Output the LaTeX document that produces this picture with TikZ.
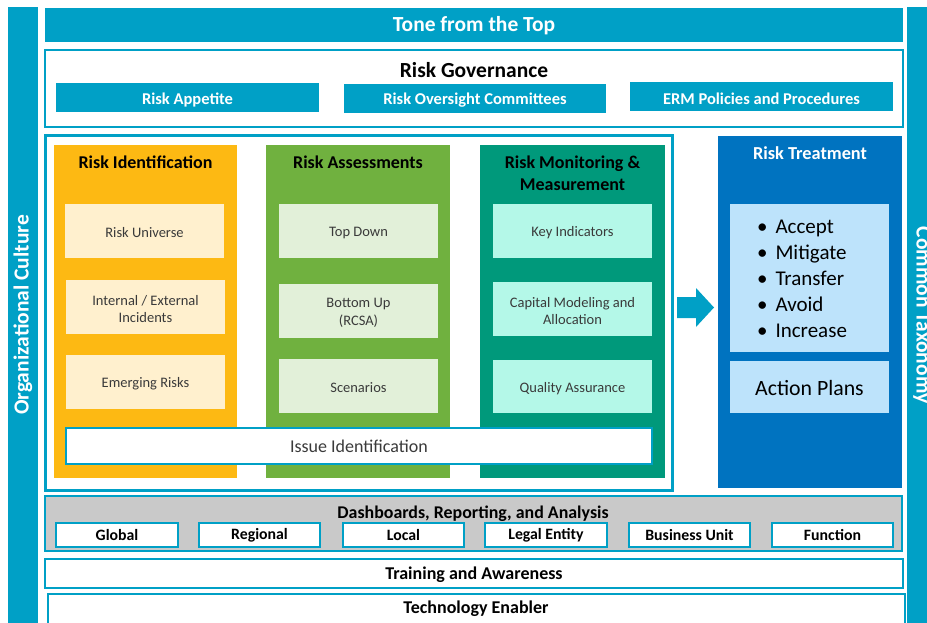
\documentclass[tikz,border=0pt]{standalone}
\usepackage{fontspec}
\setmainfont{Carlito}
\definecolor{cy}{HTML}{00A0C6}
\definecolor{orng}{HTML}{FDB913}
\definecolor{grn}{HTML}{70B13F}
\definecolor{teal2}{HTML}{00997B}
\definecolor{blu}{HTML}{0073C0}
\definecolor{lorng}{HTML}{FFF0CE}
\definecolor{lgrn}{HTML}{E2F0D9}
\definecolor{mint}{HTML}{B4F8E8}
\definecolor{lblu}{HTML}{BDE3FB}
\definecolor{gry}{HTML}{C9C9C9}
\definecolor{txtg}{HTML}{3A3A3A}
\newcommand{\rbox}[7][]{\node[#1, minimum width={(#5)-(#3)}, minimum height={(#6)-(#4)}] (#2) at ({((#3)+(#5))/2},{((#4)+(#6))/2}) {#7};}
\newcommand{\rboxlow}[7][]{\node[#1, minimum width={(#5)-(#3)}, minimum height={(#6)-(#4)}] (#2) at ({((#3)+(#5))/2},{((#4)+(#6))/2}) {};
  \node[#1, draw=none, fill=none, yshift=-2pt] (#2-t) at (#2.center) {#7};}
\begin{document}
\begin{tikzpicture}[x=1pt,y=-1pt,
  every node/.style={inner sep=0pt, outer sep=0pt},
  bar/.style={fill=cy, text=white, font=\bfseries\fontsize{21.5}{24}\selectfont},
  frame/.style={draw=cy, line width=2.5pt, fill=white},
  govsub/.style={fill=cy, text=white, font=\bfseries\fontsize{16.5}{19}\selectfont},
  coltitle/.style={font=\bfseries\fontsize{18}{22}\selectfont, align=center},
  subbox/.style={font=\fontsize{14.5}{17.5}\selectfont, text=txtg, align=center},
  tag/.style={draw=cy, line width=1.5pt, fill=white, font=\bfseries\fontsize{15.8}{18}\selectfont},
  wide/.style={draw=cy, line width=2pt, fill=white, font=\bfseries\fontsize{18}{20}\selectfont},
  big/.style={font=\fontsize{21}{26}\selectfont, text=black}
]
\useasboundingbox (0,0) rectangle (927,623);

% side bars
\rbox[bar]{oc}{8}{7}{38}{640}{}
\node[rotate=90, text=white, font=\bfseries\fontsize{21.5}{24}\selectfont] (oct) at (23,315) {Organizational Culture};
\rbox[bar]{ct}{907}{7}{937}{640}{}
\node[rotate=-90, text=white, font=\bfseries\fontsize{21.5}{24}\selectfont] (ctt) at (922,315) {Common Taxonomy};

% top
\rbox[bar]{tone}{45}{8}{903}{42}{}
\node[text=white, font=\bfseries\fontsize{21.5}{24}\selectfont] (tonet) at (474,26) {Tone from the Top};

% governance
\rbox[frame]{gov}{45}{50}{903}{127}{}
\node[font=\bfseries\fontsize{21.5}{24}\selectfont] (govt) at (474,70) {Risk Governance};
\rboxlow[govsub]{ra}{56}{83}{319}{112}{Risk Appetite}
\rboxlow[govsub]{roc}{344}{84}{606}{113}{Risk Oversight Committees}
\rboxlow[govsub]{erm}{630}{82}{893}{111}{ERM Policies and Procedures}

% middle frame
\draw[draw=cy, line width=3pt, fill=white] (45,136) rectangle (672,490);

% columns
\rbox[fill=orng]{idc}{54}{145}{237}{478}{}
\node[coltitle] (idt) at (145.5,162) {Risk Identification};
\rboxlow[fill=lorng, subbox]{ru}{65}{204}{224}{258}{Risk Universe}
\rboxlow[fill=lorng, subbox]{ie}{66}{280}{225}{334}{Internal / External\\Incidents}
\rboxlow[fill=lorng, subbox]{er}{66}{355}{225}{409}{Emerging Risks}

\rbox[fill=grn]{asc}{266}{145}{450}{478}{}
\node[coltitle] (ast) at (358,162) {Risk Assessments};
\rboxlow[fill=lgrn, subbox]{td}{279}{204}{438}{258}{Top Down}
\rboxlow[fill=lgrn, subbox]{bu}{279}{284}{438}{338}{Bottom Up\\(RCSA)}
\rboxlow[fill=lgrn, subbox]{sc}{279}{359}{438}{413}{Scenarios}

\rbox[fill=teal2]{mmc}{480}{145}{665}{478}{}
\node[coltitle] (mmt) at (572.5,173) {Risk Monitoring \&\\Measurement};
\rboxlow[fill=mint, subbox]{ki}{493}{204}{652}{258}{Key Indicators}
\rboxlow[fill=mint, subbox]{cm}{493}{282}{652}{336}{Capital Modeling and\\Allocation}
\rboxlow[fill=mint, subbox]{qa}{493}{360}{652}{413}{Quality Assurance}

\rbox[draw=cy, line width=2pt, fill=white, font=\fontsize{18}{20}\selectfont, text=txtg]{iss}{66}{428}{652}{464}{Issue Identification}

% arrow
\fill[cy] (677,297) -- (696,297) -- (696,288) -- (714,307.5) -- (696,327) -- (696,318) -- (677,318) -- cycle;

% treatment
\rbox[fill=blu]{trc}{718}{136}{902}{488}{}
\node[text=white, font=\bfseries\fontsize{18.3}{20}\selectfont] (trt) at (810,153) {Risk Treatment};
\rbox[fill=lblu]{trb}{730}{204}{889}{352}{}
\node[big, align=left] (trl) at (802,278.5) {\textbullet\hspace{8pt}Accept\\\textbullet\hspace{8pt}Mitigate\\\textbullet\hspace{8pt}Transfer\\\textbullet\hspace{8pt}Avoid\\\textbullet\hspace{8pt}Increase};
\rbox[fill=lblu]{ap}{730}{361}{889}{413}{}
\node[font=\fontsize{21.8}{26}\selectfont] (apt) at (809.5,388) {Action Plans};

% dashboards
\rbox[draw=cy, line width=2pt, fill=gry]{dash}{45}{496}{902}{551}{}
\node[font=\bfseries\fontsize{17.9}{20}\selectfont] (dasht) at (473,514) {Dashboards, Reporting, and Analysis};
\rbox[tag]{gl}{56}{523}{178}{547}{Global}
\rbox[tag]{rg}{199}{523}{320}{547}{Regional}
\rbox[tag]{lc}{343}{523}{464}{547}{Local}
\rbox[tag]{le}{485}{523}{607}{547}{Legal Entity}
\rbox[tag]{bun}{629}{523}{750}{547}{Business Unit}
\rbox[tag]{fn}{772}{523}{893}{547}{Function}

% bottom bars
\rbox[wide]{tr}{45}{559}{903}{588}{}
\node[font=\bfseries\fontsize{18}{20}\selectfont] (trt2) at (474,575) {Training and Awareness};
\rbox[wide]{te}{48}{594}{905}{630}{}
\node[font=\bfseries\fontsize{18}{20}\selectfont] (tet) at (476,609) {Technology Enabler};
\end{tikzpicture}
\end{document}
